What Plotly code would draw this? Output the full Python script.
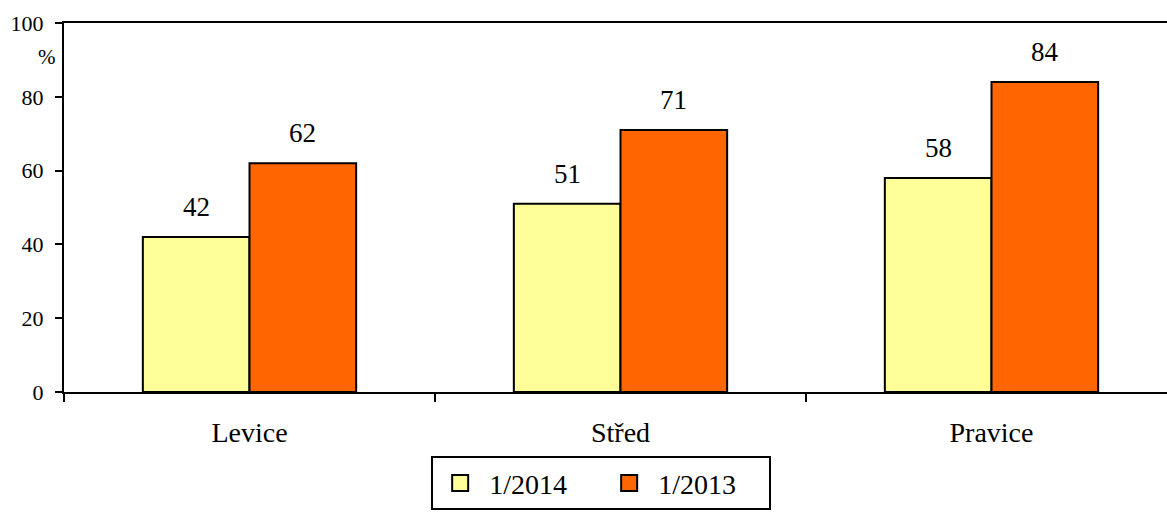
import plotly.graph_objects as go

categories = ["Levice", "Střed", "Pravice"]
series_2014 = [42, 51, 58]
series_2013 = [62, 71, 84]
series_names = ["1/2014", "1/2013"]
series_colors = ["#FFFF99", "#FF6600"]
y_ticks = [0, 20, 40, 60, 80, 100]

FONT = "Liberation Serif, Times New Roman, serif"

fig = go.Figure()
for name, vals, col in zip(series_names, [series_2014, series_2013], series_colors):
    fig.add_trace(go.Bar(
        name=name, x=categories, y=vals, legendgroup=name, showlegend=False,
        marker=dict(color=col, line=dict(color="black", width=2)),
    ))
# legend entries with larger square swatches
for name, col in zip(series_names, series_colors):
    fig.add_trace(go.Scatter(
        name=name, x=[None], y=[None], mode="markers", legendgroup=name,
        marker=dict(symbol="square", size=16, color=col, line=dict(color="black", width=2)),
        hoverinfo="skip",
    ))

# value labels placed above each bar (through the axes)
annotations = []
for vals, shift in zip([series_2014, series_2013], [-53, 53]):
    for c, v in zip(categories, vals):
        annotations.append(dict(
            x=c, y=v, xref="x", yref="y", text=str(v), showarrow=False,
            xanchor="center", yanchor="bottom", xshift=shift, yshift=13,
            font=dict(family=FONT, size=27, color="black"),
        ))
annotations.append(dict(
    text="%", xref="paper", yref="paper", x=-0.005, y=0.908,
    xanchor="right", yanchor="middle", showarrow=False,
    font=dict(family=FONT, size=21, color="black"),
))

fig.update_layout(
    width=1167, height=522,
    margin=dict(l=64, r=0, t=23, b=130),
    paper_bgcolor="white", plot_bgcolor="white",
    barmode="group", bargap=0.425, bargroupgap=0,
    font=dict(family=FONT, size=22, color="black"),
    showlegend=True,
    legend=dict(
        orientation="h", x=0.487, xanchor="center", y=-0.174, yanchor="top",
        bordercolor="black", borderwidth=2, bgcolor="white",
        font=dict(family=FONT, size=28, color="black"),
        entrywidth=106, entrywidthmode="pixels", itemwidth=48,
        itemsizing="trace",
    ),
    xaxis=dict(
        type="category", range=[-0.5, 2.5 - 10 / 371],
        showline=True, linecolor="black", linewidth=2, mirror=True,
        ticks="outside", tickson="boundaries", ticklen=8, tickwidth=2, tickcolor="black",
        showgrid=False, tickfont=dict(family=FONT, size=28), ticklabelstandoff=14,
    ),
    yaxis=dict(
        range=[0, 100], tickvals=y_ticks,
        showline=True, linecolor="black", linewidth=2,
        ticks="outside", ticklen=7, tickwidth=2, tickcolor="black",
        showgrid=False, zeroline=False, tickfont=dict(family=FONT, size=22),
        ticklabelstandoff=7,
    ),
    annotations=annotations,
)

fig.write_html("out.html", config={"displayModeBar": False},
               post_script="document.body.style.margin='0';")
